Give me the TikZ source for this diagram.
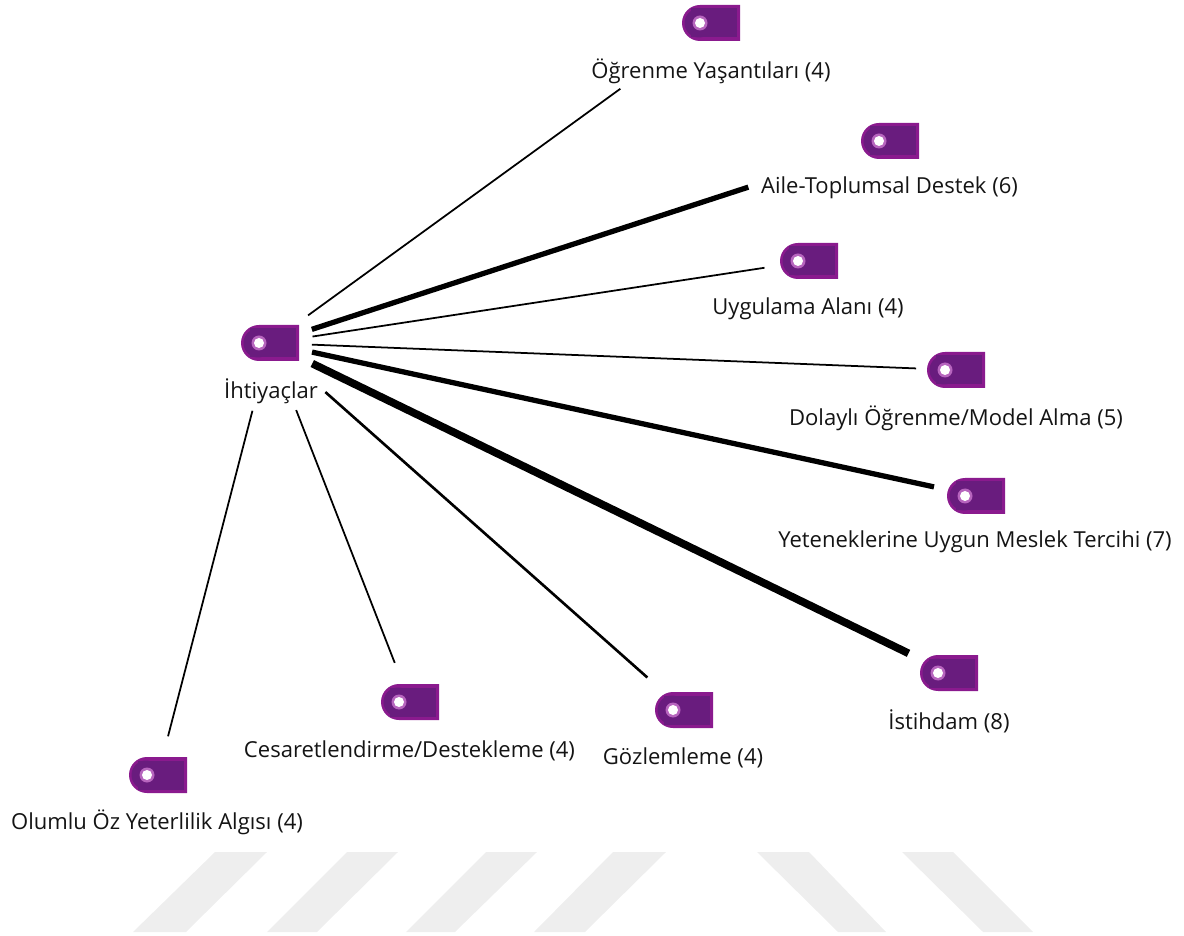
\documentclass[tikz,border=0pt]{standalone}
\usepackage{fontspec}
\setmainfont{Open Sans}
\usetikzlibrary{shapes.misc}

\tikzset{
  tagnode/.style={rounded rectangle, rounded rectangle right arc=none, minimum width=0.58cm,
    minimum height=0.36cm, inner sep=0pt, fill=tagpurple,
    path picture={
      \fill[tagdark] ([xshift=0.09cm,yshift=0.035cm]path picture bounding box.south west)
        rectangle ([xshift=-0.03cm,yshift=-0.035cm]path picture bounding box.north east);
      \fill[tagdark] ([xshift=-0.12cm]path picture bounding box.center) circle (0.145cm);
      \fill[tagpink] ([xshift=-0.11cm,yshift=0.0cm]path picture bounding box.center) circle (0.075cm);
      \fill[white] ([xshift=-0.11cm,yshift=0.0cm]path picture bounding box.center) circle (0.05cm);
    }},
  taglabel/.style={inner sep=0pt, font=\fontsize{6.27}{7.5}\selectfont, text=black!92},
  stripe/.style={fill=black!6.5, draw=none},
  thinlink/.style={line width=0.5pt},
  midlink/.style={line width=0.75pt},
  boldlink/.style={line width=1.5pt},
  heavylink/.style={line width=2.2pt}
}
\definecolor{tagpurple}{HTML}{8A1A8E}
\definecolor{tagdark}{HTML}{691C7E}
\definecolor{tagpink}{HTML}{B765BE}

\begin{document}
\begin{tikzpicture}
  \useasboundingbox (0,0) rectangle (11.84,-9.36);

  % hub
  \node[tagnode] (hub) at (2.70,-3.43) {};
  \node[taglabel] (hublabel) at (2.71,-3.91) {İhtiyaçlar};

  % targets
  \node[tagnode] (learning) at (7.11,-0.23) {};
  \node[taglabel] at (7.11,-0.71) (learninglabel) {Öğrenme Yaşantıları (4)};
  \node[tagnode] (family) at (8.90,-1.41) {};
  \node[taglabel] at (8.895,-1.88) (familylabel) {Aile-Toplumsal Destek (6)};
  \node[tagnode] (practice) at (8.09,-2.61) {};
  \node[taglabel] at (8.08,-3.09) (practicelabel) {Uygulama Alanı (4)};
  \node[tagnode] (model) at (9.56,-3.70) {};
  \node[taglabel] at (9.56,-4.18) (modellabel) {Dolaylı Öğrenme/Model Alma (5)};
  \node[tagnode] (talent) at (9.76,-4.96) {};
  \node[taglabel] at (9.75,-5.42) (talentlabel) {Yeteneklerine Uygun Meslek Tercihi (7)};
  \node[tagnode] (job) at (9.49,-6.73) {};
  \node[taglabel] at (9.49,-7.21) (joblabel) {İstihdam (8)};
  \node[tagnode] (watch) at (6.84,-7.10) {};
  \node[taglabel] at (6.83,-7.58) (watchlabel) {Gözlemleme (4)};
  \node[tagnode] (support) at (4.10,-7.02) {};
  \node[taglabel] at (4.095,-7.51) (supportlabel) {Cesaretlendirme/Destekleme (4)};
  \node[tagnode] (belief) at (1.58,-7.75) {};
  \node[taglabel] at (1.57,-8.22) (belieflabel) {Olumlu Öz Yeterlilik Algısı (4)};

  % links
  \draw[thinlink, shorten <=0.47cm, shorten >=1.12cm] (hub.center) -- (learning.center);
  \draw[boldlink, shorten <=0.44cm, shorten >=1.49cm] (hub.center) -- (family.center);
  \draw[thinlink, shorten <=0.43cm, shorten >=0.45cm] (hub.center) -- (practice.center);
  \draw[thinlink, shorten <=0.42cm, shorten >=0.40cm] (hub.center) -- (model.center);
  \draw[boldlink, shorten <=0.43cm, shorten >=0.43cm] (hub.center) -- (talent.center);
  \draw[heavylink, shorten <=0.47cm, shorten >=0.45cm] (hub.center) -- (job.center);
  \draw[midlink, shorten <=0.74cm, shorten >=0.49cm] (hub.center) -- (watch.center);
  \draw[thinlink, shorten <=0.72cm, shorten >=0.42cm] (hub.center) -- (support.center);
  \draw[thinlink, shorten <=0.70cm, shorten >=0.40cm] (hub.center) -- (belief.center);

  % background stripes
  \fill[stripe] (2.15,-8.52) -- (2.67,-8.52) -- (1.86,-9.32) -- (1.33,-9.32) -- cycle;
  \fill[stripe] (3.47,-8.52) -- (3.98,-8.52) -- (3.17,-9.32) -- (2.67,-9.32) -- cycle;
  \fill[stripe] (4.86,-8.52) -- (5.37,-8.52) -- (4.55,-9.32) -- (4.06,-9.32) -- cycle;
  \fill[stripe] (6.13,-8.52) -- (6.66,-8.52) -- (5.85,-9.32) -- (5.34,-9.32) -- cycle;
  \fill[stripe] (7.57,-8.52) -- (8.09,-8.52) -- (8.86,-9.32) -- (8.38,-9.32) -- cycle;
  \fill[stripe] (9.02,-8.52) -- (9.53,-8.52) -- (10.33,-9.32) -- (9.83,-9.32) -- cycle;
\end{tikzpicture}
\end{document}
